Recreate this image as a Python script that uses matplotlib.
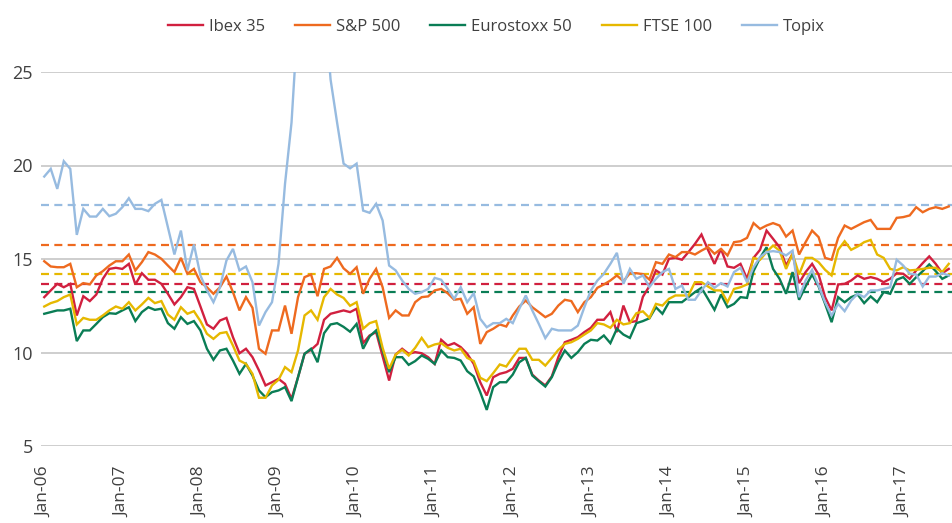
import numpy as np
import pandas as pd
import matplotlib
matplotlib.use('Agg')
import matplotlib.pyplot as plt

# ── Monthly data, Jan-06 .. Aug-17 ────────────────────────────────────────────
MONTHS = pd.date_range('2006-01-01', periods=140, freq='MS')

IBEX = [
    12.96, 13.32, 13.67, 13.49, 13.67, 11.98, 13.01, 12.75, 13.10, 13.94, 14.47, 14.53,
    14.47, 14.74, 13.64, 14.24, 13.89, 13.89, 13.67, 13.14, 12.57, 12.96, 13.49, 13.40,
    12.46, 11.50, 11.27, 11.71, 11.85, 10.82, 9.96, 10.20, 9.75, 9.04, 8.24, 8.41,
    8.59, 8.32, 7.52, 8.68, 9.93, 10.14, 10.46, 11.75, 12.07, 12.16, 12.25, 12.16,
    12.34, 10.50, 10.91, 11.09, 9.79, 8.50, 9.89, 10.20, 9.93, 10.02, 9.96, 9.75,
    9.39, 10.68, 10.37, 10.50, 10.29, 9.93, 9.39, 8.41, 7.70, 8.68, 8.86, 8.95,
    9.13, 9.71, 9.71, 8.82, 8.50, 8.24, 8.72, 9.75, 10.55, 10.68, 10.82, 11.09,
    11.32, 11.75, 11.75, 12.16, 11.09, 12.51, 11.62, 11.68, 12.98, 13.55, 14.39, 14.17,
    15.01, 15.06, 14.96, 15.37, 15.81, 16.31, 15.49, 14.74, 15.54, 14.60, 14.53, 14.74,
    13.94, 15.06, 15.49, 16.52, 16.08, 15.63, 14.65, 15.28, 13.71, 14.30, 14.74, 14.17,
    12.96, 12.25, 13.64, 13.67, 13.85, 14.12, 13.94, 14.03, 13.94, 13.76, 13.94, 14.24,
    14.21, 13.94, 14.39, 14.78, 15.14, 14.74, 14.24, 14.47,
]

SP500 = [
    14.88, 14.60, 14.56, 14.56, 14.74, 13.49, 13.71, 13.64, 14.12, 14.35, 14.65, 14.88,
    14.88, 15.24, 14.39, 14.83, 15.37, 15.24, 15.01, 14.65, 14.30, 15.06, 14.21, 14.47,
    13.76, 13.49, 13.14, 13.49, 14.06, 13.23, 12.25, 12.96, 12.39, 10.20, 9.93, 11.18,
    11.18, 12.51, 11.00, 12.96, 14.03, 14.17, 13.01, 14.47, 14.60, 15.06, 14.50, 14.21,
    14.56, 13.14, 13.94, 14.47, 13.49, 11.85, 12.25, 11.98, 11.98, 12.69, 12.96, 13.00,
    13.32, 13.40, 13.17, 12.82, 12.87, 12.07, 12.42, 10.46, 11.09, 11.27, 11.50, 11.39,
    11.98, 12.46, 12.78, 12.42, 12.16, 11.89, 12.07, 12.51, 12.82, 12.75, 12.16, 12.69,
    12.96, 13.46, 13.64, 13.85, 14.12, 13.81, 14.24, 14.24, 14.19, 13.90, 14.83, 14.74,
    15.24, 15.10, 15.37, 15.37, 15.24, 15.45, 15.63, 15.28, 15.54, 15.19, 15.90, 15.95,
    16.13, 16.92, 16.61, 16.79, 16.92, 16.79, 16.20, 16.52, 15.24, 15.90, 16.52, 16.17,
    15.06, 14.96, 16.13, 16.79, 16.61, 16.79, 16.97, 17.09, 16.61, 16.61, 16.61, 17.20,
    17.24, 17.33, 17.77, 17.50, 17.68, 17.77, 17.68, 17.81,
]

EUROSTOXX = [
    12.07, 12.16, 12.25, 12.25, 12.34, 10.61, 11.18, 11.18, 11.53, 11.89, 12.10, 12.07,
    12.25, 12.42, 11.68, 12.16, 12.42, 12.28, 12.34, 11.57, 11.27, 11.89, 11.53, 11.68,
    11.18, 10.20, 9.61, 10.11, 10.20, 9.57, 8.86, 9.39, 8.77, 7.97, 7.61, 7.88,
    7.97, 8.15, 7.40, 8.68, 9.93, 10.20, 9.48, 11.03, 11.50, 11.57, 11.37, 11.11,
    11.53, 10.20, 10.86, 11.18, 10.11, 8.95, 9.75, 9.75, 9.34, 9.54, 9.84, 9.66,
    9.39, 10.11, 9.75, 9.71, 9.57, 9.00, 8.72, 7.88, 6.93, 8.15, 8.41, 8.41,
    8.82, 9.48, 9.71, 8.77, 8.47, 8.18, 8.68, 9.48, 10.11, 9.71, 10.02, 10.46,
    10.68, 10.64, 10.91, 10.50, 11.27, 10.96, 10.78, 11.57, 11.68, 11.83, 12.42, 12.07,
    12.69, 12.69, 12.69, 12.96, 13.23, 13.46, 12.87, 12.28, 13.10, 12.42, 12.60, 12.96,
    12.92, 14.35, 15.06, 15.63, 14.47, 13.94, 13.14, 14.30, 12.82, 13.53, 14.17, 13.53,
    12.60, 11.62, 12.96, 12.69, 12.96, 13.10, 12.64, 13.00, 12.69, 13.23, 13.14, 13.89,
    14.03, 13.67, 14.03, 14.35, 14.71, 14.35, 13.94, 14.12,
]

FTSE = [
    12.46, 12.64, 12.75, 12.96, 13.10, 11.50, 11.85, 11.75, 11.75, 11.98, 12.25, 12.46,
    12.34, 12.69, 12.25, 12.57, 12.92, 12.64, 12.75, 12.03, 11.75, 12.42, 12.07, 12.21,
    11.68, 11.00, 10.73, 11.03, 11.09, 10.37, 9.57, 9.39, 8.86, 7.58, 7.58, 8.24,
    8.54, 9.22, 8.95, 10.11, 11.98, 12.25, 11.75, 12.96, 13.40, 13.10, 12.92, 12.50,
    12.69, 11.27, 11.57, 11.68, 10.25, 9.13, 9.89, 10.14, 9.84, 10.25, 10.78, 10.29,
    10.43, 10.50, 10.25, 10.11, 10.20, 9.71, 9.54, 8.65, 8.47, 8.90, 9.36, 9.25,
    9.75, 10.20, 10.20, 9.61, 9.61, 9.30, 9.71, 10.14, 10.46, 10.55, 10.73, 10.96,
    11.18, 11.57, 11.50, 11.32, 11.75, 11.50, 11.57, 12.10, 12.20, 11.85, 12.60, 12.51,
    12.87, 13.05, 13.05, 13.05, 13.76, 13.76, 13.53, 13.32, 13.32, 12.69, 13.40, 13.49,
    13.64, 15.06, 14.96, 15.37, 15.72, 15.45, 14.47, 15.28, 14.17, 15.06, 15.06, 14.83,
    14.42, 14.12, 15.49, 15.95, 15.49, 15.67, 15.90, 16.02, 15.24, 15.06, 14.47, 14.39,
    14.56, 14.39, 14.42, 14.47, 14.53, 14.53, 14.30, 14.74,
]

TOPIX = [
    19.41, 19.82, 18.75, 20.23, 19.82, 16.29, 17.68, 17.27, 17.27, 17.68, 17.29, 17.42,
    17.77, 18.25, 17.68, 17.68, 17.56, 17.95, 18.16, 16.70, 15.24, 16.52, 14.39, 15.78,
    14.12, 13.32, 12.69, 13.49, 14.92, 15.54, 14.39, 14.60, 13.76, 11.44, 12.16, 12.69,
    14.74, 19.02, 22.30, 28.00, 33.50, 37.00, 35.00, 29.00, 24.60, 22.30, 20.10, 19.85,
    20.10, 17.59, 17.47, 17.95, 17.06, 14.65, 14.39, 13.85, 13.40, 13.14, 13.23, 13.40,
    13.99, 13.89, 13.40, 12.87, 13.49, 12.69, 13.17, 11.80, 11.35, 11.57, 11.57, 11.80,
    11.57, 12.34, 13.05, 12.25, 11.53, 10.77, 11.27, 11.18, 11.18, 11.18, 11.44, 12.42,
    13.32, 13.85, 14.21, 14.74, 15.33, 13.67, 14.47, 13.94, 14.12, 13.50, 13.94, 14.30,
    14.47, 13.40, 13.58, 12.82, 12.82, 13.32, 13.76, 13.46, 13.71, 13.53, 14.30, 14.53,
    13.76, 14.56, 15.10, 15.37, 15.42, 15.37, 15.19, 15.45, 12.96, 13.85, 14.42, 13.58,
    12.69, 11.98, 12.60, 12.21, 12.78, 13.14, 12.96, 13.32, 13.32, 13.40, 13.49, 14.96,
    14.65, 14.21, 14.17, 13.53, 14.06, 14.06, 14.24, 14.12,
]

SERIES_NAMES = ['Ibex 35', 'S&P 500', 'Eurostoxx 50', 'FTSE 100', 'Topix']
AVERAGES     = [13.65, 15.75, 13.24, 14.20, 17.89]   # dashed long-run means

# ── Colours ───────────────────────────────────────────────────────────────────
COLOURS = ['#d1203f', '#ee6a1f', '#0a7d55', '#e6b800', '#97bbe0']
COL_TEXT = '#404040'
COL_GRID = '#c6c6c6'

plt.rcParams['font.family'] = ['Open Sans', 'DejaVu Sans']

fig = plt.figure(figsize=(9.52, 5.23), dpi=100)
ax = fig.add_axes([41 / 952, 1 - 446 / 523, 911 / 952, 374 / 523])

x = np.arange(len(MONTHS))
all_series = [IBEX, SP500, EUROSTOXX, FTSE, TOPIX]

for vals, name, col in zip(all_series, SERIES_NAMES, COLOURS):
    ax.plot(x, vals, color=col, lw=1.7, label=name, zorder=3,
            solid_joinstyle='miter')

for avg, col in zip(AVERAGES, COLOURS):
    ax.axhline(avg, color=col, lw=1.6, ls=(0, (3.6, 2.4)), zorder=2)

# ── Axes styling ──────────────────────────────────────────────────────────────
ax.set_xlim(-0.5, len(MONTHS) - 0.5)
ax.set_ylim(5, 25)
ax.set_yticks([5, 10, 15, 20, 25])
ax.grid(axis='y', color=COL_GRID, lw=1.2, zorder=0)
ax.set_axisbelow(True)
for s in ax.spines.values():
    s.set_visible(False)

jan_idx = [i for i, d in enumerate(MONTHS) if d.month == 1]
ax.set_xticks(jan_idx)
ax.set_xticklabels([MONTHS[i].strftime('%b-%y') for i in jan_idx],
                   rotation=90, ha='center', va='top')
ax.tick_params(axis='x', length=0, pad=15, labelsize=12.5, labelcolor=COL_TEXT)
ax.tick_params(axis='y', length=0, pad=6, labelsize=13, labelcolor=COL_TEXT)

ax.legend(loc='center', bbox_to_anchor=(0.5, 1.12), ncol=5, frameon=False,
          fontsize=12, handlelength=2.1, handletextpad=0.35,
          columnspacing=1.8, labelcolor=COL_TEXT)

fig.savefig('out.png', dpi=100)
